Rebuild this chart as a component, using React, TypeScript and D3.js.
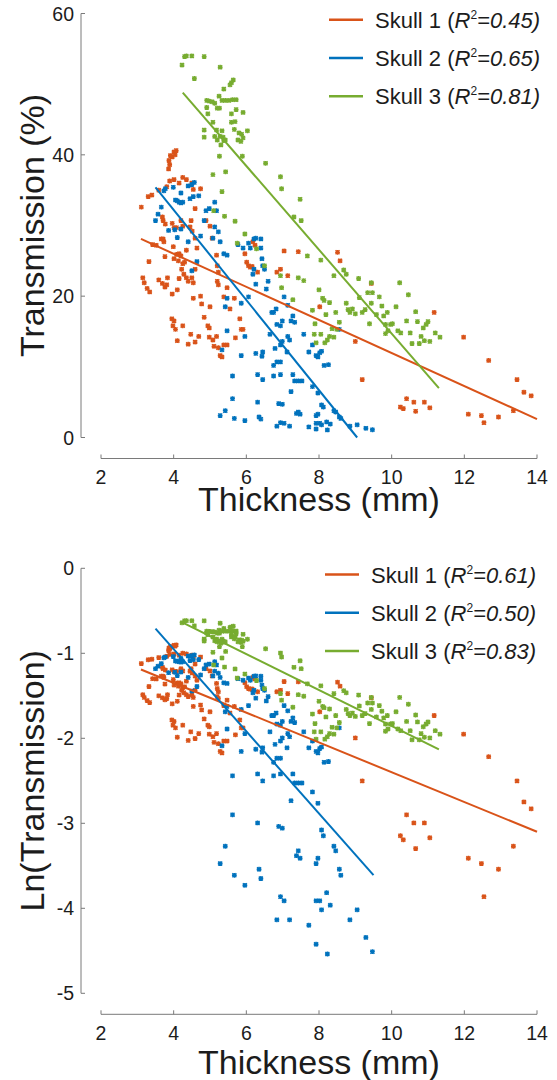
import * as d3 from 'd3'

// [thickness mm, transmission %]
const skull1Points: [number, number][] = [
  [3.11, 32.6], [3.15, 22.6], [3.19, 21.9], [3.27, 21.1], [3.34, 20.6], [3.3, 34.1], [3.4, 34.3],
  [3.32, 24.9], [3.42, 27.3], [3.52, 27.2], [3.66, 28.1], [3.71, 28.1], [3.73, 27.7], [3.59, 22.3],
  [3.69, 21.8], [3.76, 21.3], [3.81, 21.6], [3.83, 22.6], [3.69, 31.2], [3.71, 30.7], [3.77, 30.2],
  [3.76, 25.6], [3.59, 35.0], [3.81, 35.5], [3.89, 36.3], [3.86, 38.0], [3.89, 38.6], [3.87, 39.2],
  [3.96, 39.7], [4.01, 40.4], [4.07, 40.6], [3.91, 39.9], [4.04, 40.0], [3.96, 30.3], [4.01, 29.7],
  [4.08, 29.7], [4.2, 30.7], [4.25, 29.9], [3.99, 27.0], [4.01, 25.3], [4.08, 25.9], [4.13, 25.0],
  [4.2, 25.7], [4.25, 24.6], [4.3, 24.8], [4.35, 26.5], [4.15, 26.0], [3.96, 20.3], [4.1, 20.9],
  [4.15, 22.5], [4.22, 23.8], [4.28, 23.1], [4.35, 22.6], [4.4, 22.1], [4.5, 22.6], [4.54, 21.9],
  [4.59, 23.8], [3.95, 16.8], [4.01, 16.5], [3.98, 15.8], [4.05, 15.3], [4.1, 13.7], [4.25, 15.8],
  [4.4, 13.2], [4.59, 13.5], [4.47, 14.6], [4.01, 36.5], [4.15, 36.0], [4.25, 36.8], [4.35, 36.5],
  [4.5, 36.0], [4.54, 35.1], [4.74, 35.2], [4.59, 32.4], [4.48, 30.7], [4.45, 29.8], [4.51, 29.2],
  [4.59, 28.2], [4.64, 26.8], [4.74, 20.0], [4.77, 18.9], [4.54, 19.7], [4.84, 17.0], [4.69, 14.3],
  [4.94, 15.8], [4.98, 15.5], [5.0, 18.5], [4.98, 14.2], [5.08, 13.8], [5.11, 12.9], [5.18, 14.3],
  [5.23, 12.7], [5.28, 11.6], [5.33, 11.4], [5.38, 13.1], [5.47, 13.1], [4.89, 30.7], [5.0, 29.9],
  [5.06, 28.2], [5.18, 25.8], [5.2, 24.3], [5.23, 23.4], [5.2, 22.1], [5.23, 21.6], [5.38, 19.9],
  [5.47, 21.2], [5.55, 18.2], [5.67, 19.7], [5.7, 14.1], [5.82, 16.8], [5.86, 15.3], [5.91, 15.3],
  [5.96, 26.0], [6.01, 24.8], [6.06, 24.3], [6.11, 24.1], [6.16, 24.2], [6.18, 27.7], [6.24, 27.2],
  [6.31, 23.4], [6.84, 23.4], [6.94, 23.8], [7.14, 22.9], [7.04, 26.4], [7.43, 26.3], [8.02, 18.5],
  [8.51, 26.2], [8.58, 25.0], [9.0, 13.6], [9.19, 8.2], [9.44, 21.8], [10.24, 4.3], [10.32, 4.1],
  [10.41, 5.5], [10.61, 5.0], [10.66, 3.7], [10.9, 5.0], [11.05, 4.2], [11.17, 17.7], [11.98, 14.2],
  [12.11, 3.3], [12.47, 3.1], [12.54, 2.1], [12.67, 10.9], [12.94, 2.9], [13.35, 3.8], [13.45, 8.2],
  [13.64, 6.4], [13.84, 5.9],
]

const skull2Points: [number, number][] = [
  [3.5, 30.7], [3.57, 31.6], [3.66, 32.6], [3.73, 34.9], [3.77, 35.2], [3.99, 35.4], [4.05, 33.6],
  [4.1, 33.5], [4.15, 33.3], [4.2, 33.2], [4.25, 33.3], [4.2, 34.6], [4.4, 35.6], [4.5, 35.8],
  [4.57, 36.1], [4.45, 33.8], [4.54, 34.1], [4.69, 34.2], [3.86, 29.3], [4.03, 29.4], [4.1, 28.3],
  [4.2, 29.5], [4.4, 27.7], [4.5, 23.6], [4.64, 24.9], [4.74, 28.5], [4.84, 30.7], [4.89, 32.1],
  [4.98, 32.4], [5.13, 33.3], [5.08, 28.2], [5.18, 32.1], [5.23, 29.1], [5.13, 29.8], [5.28, 27.7],
  [5.38, 26.0], [5.47, 25.8], [5.33, 12.4], [5.42, 18.5], [5.47, 19.7], [5.47, 15.1], [5.62, 8.7],
  [5.62, 5.5], [5.67, 2.7], [5.28, 3.1], [5.42, 3.8], [5.86, 19.0], [5.96, 14.3], [5.86, 11.6],
  [5.96, 2.4], [5.77, 27.3], [5.91, 26.8], [6.06, 27.5], [6.11, 26.8], [6.21, 28.1], [6.26, 28.2],
  [6.4, 28.1], [6.4, 26.8], [6.43, 25.3], [6.45, 24.3], [6.5, 23.8], [6.21, 23.8], [6.18, 23.1],
  [6.26, 21.7], [6.06, 19.9], [6.55, 21.0], [6.6, 22.1], [6.26, 11.9], [6.45, 12.1], [6.43, 11.5],
  [6.31, 8.9], [6.45, 8.2], [6.31, 5.0], [6.35, 2.9], [6.4, 2.6], [6.7, 17.7], [6.75, 17.7],
  [6.82, 18.2], [6.84, 16.0], [6.94, 15.8], [6.99, 16.5], [6.65, 14.6], [6.79, 12.6], [6.94, 13.1],
  [6.99, 13.6], [7.14, 14.3], [7.12, 12.1], [7.19, 13.8], [7.23, 16.5], [7.28, 17.2], [7.04, 19.9],
  [7.14, 18.7], [7.33, 16.3], [7.58, 14.6], [6.75, 10.2], [6.84, 10.7], [6.94, 10.7], [6.75, 8.7],
  [6.94, 8.9], [7.28, 8.9], [7.33, 8.0], [7.43, 8.0], [7.53, 8.0], [7.23, 6.5], [6.89, 4.8],
  [6.99, 4.7], [6.84, 1.6], [6.94, 2.1], [7.04, 2.0], [7.19, 1.6], [7.38, 3.4], [7.43, 3.6],
  [7.48, 3.3], [7.72, 12.1], [7.82, 13.1], [7.92, 11.6], [7.97, 11.4], [8.02, 12.0], [8.07, 12.2],
  [8.14, 10.2], [8.26, 10.3], [7.82, 7.2], [7.97, 6.3], [8.07, 4.6], [8.12, 4.3], [8.41, 3.8],
  [8.46, 3.6], [8.56, 2.9], [8.6, 2.7], [7.92, 3.1], [7.97, 3.3], [7.92, 2.0], [8.02, 2.0],
  [8.07, 1.8], [8.21, 2.2], [8.31, 1.9], [7.72, 1.5], [7.92, 1.2], [8.23, 1.07], [8.85, 1.6],
  [9.05, 1.8], [9.29, 1.3], [9.47, 1.1], [8.56, 15.3],
]

const skull3Points: [number, number][] = [
  [4.23, 52.7], [4.3, 53.9], [4.35, 54.0], [4.5, 54.0], [4.84, 53.9], [4.57, 50.8], [5.28, 52.4],
  [5.64, 50.6], [5.59, 50.2], [5.55, 49.9], [5.38, 49.3], [5.25, 48.3], [4.91, 47.7], [4.98, 47.6],
  [5.06, 47.5], [5.13, 47.3], [5.2, 46.6], [5.26, 46.6], [5.33, 47.7], [5.42, 47.7], [5.52, 47.7],
  [5.62, 47.8], [5.72, 47.8], [4.91, 46.7], [4.94, 45.8], [5.59, 45.8], [5.72, 46.4], [5.91, 46.0],
  [5.08, 44.6], [5.59, 44.6], [5.69, 44.7], [5.67, 43.6], [4.84, 43.5], [4.84, 42.5], [5.18, 43.5],
  [5.33, 43.4], [5.13, 42.6], [5.2, 42.1], [5.28, 42.6], [5.36, 42.5], [5.38, 42.0], [5.3, 41.4],
  [5.42, 42.1], [5.26, 39.8], [5.8, 43.1], [5.87, 42.9], [5.91, 42.4], [5.77, 42.1], [5.85, 41.9],
  [6.03, 43.4], [5.89, 39.8], [5.43, 37.6], [5.08, 37.2], [5.33, 34.8], [5.4, 31.3], [5.1, 32.1],
  [5.69, 30.6], [5.96, 28.8], [5.75, 27.5], [6.28, 26.7], [6.5, 24.3], [6.53, 38.8], [6.94, 36.9],
  [6.97, 35.2], [7.48, 33.7], [7.31, 31.2], [7.51, 30.7], [7.68, 25.7], [6.94, 22.9], [6.97, 21.2],
  [7.28, 19.5], [7.43, 22.6], [7.58, 22.2], [8.05, 25.1], [8.41, 22.9], [8.68, 23.7], [8.75, 23.1],
  [7.82, 18.0], [7.89, 16.1], [8.0, 20.9], [8.1, 19.7], [8.14, 19.4], [8.29, 19.1], [8.19, 17.4],
  [8.36, 15.4], [8.56, 16.3], [8.46, 17.7], [7.87, 14.6], [7.92, 13.4], [8.05, 14.6], [8.16, 13.4],
  [8.23, 13.8], [8.29, 14.3], [8.41, 14.2], [8.49, 15.3], [8.75, 19.0], [8.8, 18.1], [8.85, 17.7],
  [8.92, 18.2], [9.0, 17.5], [9.11, 19.8], [9.09, 22.5], [9.19, 17.7], [9.27, 18.1], [9.39, 16.1],
  [9.44, 19.0], [9.47, 20.5], [9.34, 20.5], [9.44, 21.9], [9.58, 17.4], [9.66, 19.9], [9.73, 18.6],
  [9.78, 17.2], [9.88, 17.7], [9.83, 16.0], [9.83, 14.7], [9.9, 15.1], [9.97, 16.0], [10.12, 18.5],
  [10.22, 21.9], [10.46, 20.2], [10.17, 15.1], [10.02, 16.1], [10.41, 16.5], [10.51, 14.8],
  [10.56, 13.3], [10.66, 17.8], [10.71, 16.4], [10.76, 13.3], [10.81, 14.3], [10.87, 15.5],
  [10.95, 16.0], [11.0, 16.4], [10.9, 13.7], [11.05, 13.6], [11.2, 14.8], [11.33, 14.2], [10.25, 14.8],
]

const skullNames = ['Skull 1', 'Skull 2', 'Skull 3']
const skullColors = ['#D95319', '#0072BD', '#77AC30']
const r2Linear = ['0.45', '0.65', '0.81']
const r2Log = ['0.61', '0.50', '0.83']
// fitted lines [x0, y0, x1, y1]
const linearFits: [number, number, number, number][] = [
  [3.1, 28.1, 14, 2.6],
  [3.5, 35.4, 9.05, 0],
  [4.25, 48.8, 11.3, 7.0],
]
const logFits: [number, number, number, number][] = [
  [3.1, -1.19, 14, -3.1],
  [3.5, -0.71, 9.5, -3.61],
  [4.25, -0.64, 11.3, -2.13],
]
const xTicks = [2, 4, 6, 8, 10, 12, 14]
const yTicksLinear = [0, 20, 40, 60]
const yTicksLog = [-5, -4, -3, -2, -1, 0]

const FONT = '"Liberation Sans", Arial, Helvetica, sans-serif'
const AXIS = '#7a7a7a'
const TEXT = '#1c1c1c'

const marker = 'M-2,-2L2,2M-2,2L2,-2M0,-2.4L0,2.4M-2.4,0L2.4,0'

function Panel({
  series,
  fits,
  r2,
  yDomain,
  yTop,
  yBottom,
  yTicks,
  yLabel,
  xLabelY,
  legendTop,
  legendX,
}: {
  series: [number, number][][]
  fits: [number, number, number, number][]
  r2: string[]
  yDomain: [number, number]
  yTop: number
  yBottom: number
  yTicks: number[]
  yLabel: string
  xLabelY: number
  legendTop: number
  legendX: number
}) {
  const x = d3.scaleLinear().domain([2, 14]).range([101, 537])
  const y = d3.scaleLinear().domain(yDomain).range([yBottom, yTop])
  const axisY = yBottom + 21
  const axisX = 81
  const line = d3
    .line<[number, number]>()
    .x((d) => x(d[0]))
    .y((d) => y(d[1]))

  return (
    <g>
      {/* y axis */}
      <line x1={axisX} x2={axisX} y1={yTop} y2={yBottom} stroke={AXIS} strokeWidth={1} />
      {yTicks.map((t) => (
        <g key={t}>
          <line x1={axisX} x2={axisX + 4} y1={y(t)} y2={y(t)} stroke={AXIS} />
          <text x={74} y={y(t)} textAnchor="end" dominantBaseline="central" fontSize={19.5} fill={TEXT}>
            {t}
          </text>
        </g>
      ))}
      {/* x axis */}
      <line x1={x(2)} x2={x(14)} y1={axisY} y2={axisY} stroke={AXIS} strokeWidth={1} />
      {xTicks.map((t) => (
        <g key={t}>
          <line x1={x(t)} x2={x(t)} y1={axisY} y2={axisY - 4} stroke={AXIS} />
          <text x={x(t)} y={axisY + 25.3} textAnchor="middle" fontSize={19.5} fill={TEXT}>
            {t}
          </text>
        </g>
      ))}
      <text x={(x(2) + x(14)) / 2} y={xLabelY} textAnchor="middle" fontSize={34} fill={TEXT}>
        Thickness (mm)
      </text>
      <text
        transform={`translate(44,${(yTop + yBottom) / 2}) rotate(-90)`}
        textAnchor="middle"
        fontSize={34}
        fill={TEXT}
      >
        {yLabel}
      </text>

      {/* points */}
      {series.map((pts, i) =>
        pts.map((p, j) => (
          <path
            key={`${i}-${j}`}
            d={marker}
            transform={`translate(${x(p[0])},${y(p[1])})`}
            stroke={skullColors[i]}
            strokeWidth={1.4}
            fill="none"
          />
        ))
      )}
      {/* fits */}
      {fits.map((f, i) => (
        <path
          key={i}
          d={line([
            [f[0], f[1]],
            [f[2], f[3]],
          ])!}
          stroke={skullColors[i]}
          strokeWidth={2}
          fill="none"
        />
      ))}

      {/* legend */}
      {skullNames.map((name, i) => {
        const ry = legendTop + i * 38.3
        return (
          <g key={name}>
            <line x1={legendX - 46} x2={legendX - 12} y1={ry} y2={ry} stroke={skullColors[i]} strokeWidth={2.5} />
            <text x={legendX} y={ry + 8} fontSize={22} fill={TEXT}>
              {name} (
              <tspan fontStyle="italic">R</tspan>
              <tspan fontSize={12} dy={-9}>
                2
              </tspan>
              <tspan fontStyle="italic" dy={9}>
                ={r2[i]})
              </tspan>
            </text>
          </g>
        )
      })}
    </g>
  )
}

export default function App() {
  const linearSeries = [skull1Points, skull2Points, skull3Points]
  const logSeries = linearSeries.map((pts) => pts.map((p) => [p[0], Math.log(p[1] / 100)] as [number, number]))

  return (
    <svg
      width={557}
      height={1080}
      style={{ position: 'absolute', left: 0, top: 0, background: '#fff', fontFamily: FONT }}
    >
      <Panel
        series={linearSeries}
        fits={linearFits}
        r2={r2Linear}
        yDomain={[0, 60]}
        yTop={13.5}
        yBottom={437.5}
        yTicks={yTicksLinear}
        yLabel="Transmission (%)"
        xLabelY={511}
        legendTop={19.7}
        legendX={375}
      />
      <Panel
        series={logSeries}
        fits={logFits}
        r2={r2Log}
        yDomain={[-5, 0]}
        yTop={568.3}
        yBottom={993.3}
        yTicks={yTicksLog}
        yLabel="Ln(Transmission)"
        xLabelY={1074}
        legendTop={574.5}
        legendX={371}
      />
    </svg>
  )
}
